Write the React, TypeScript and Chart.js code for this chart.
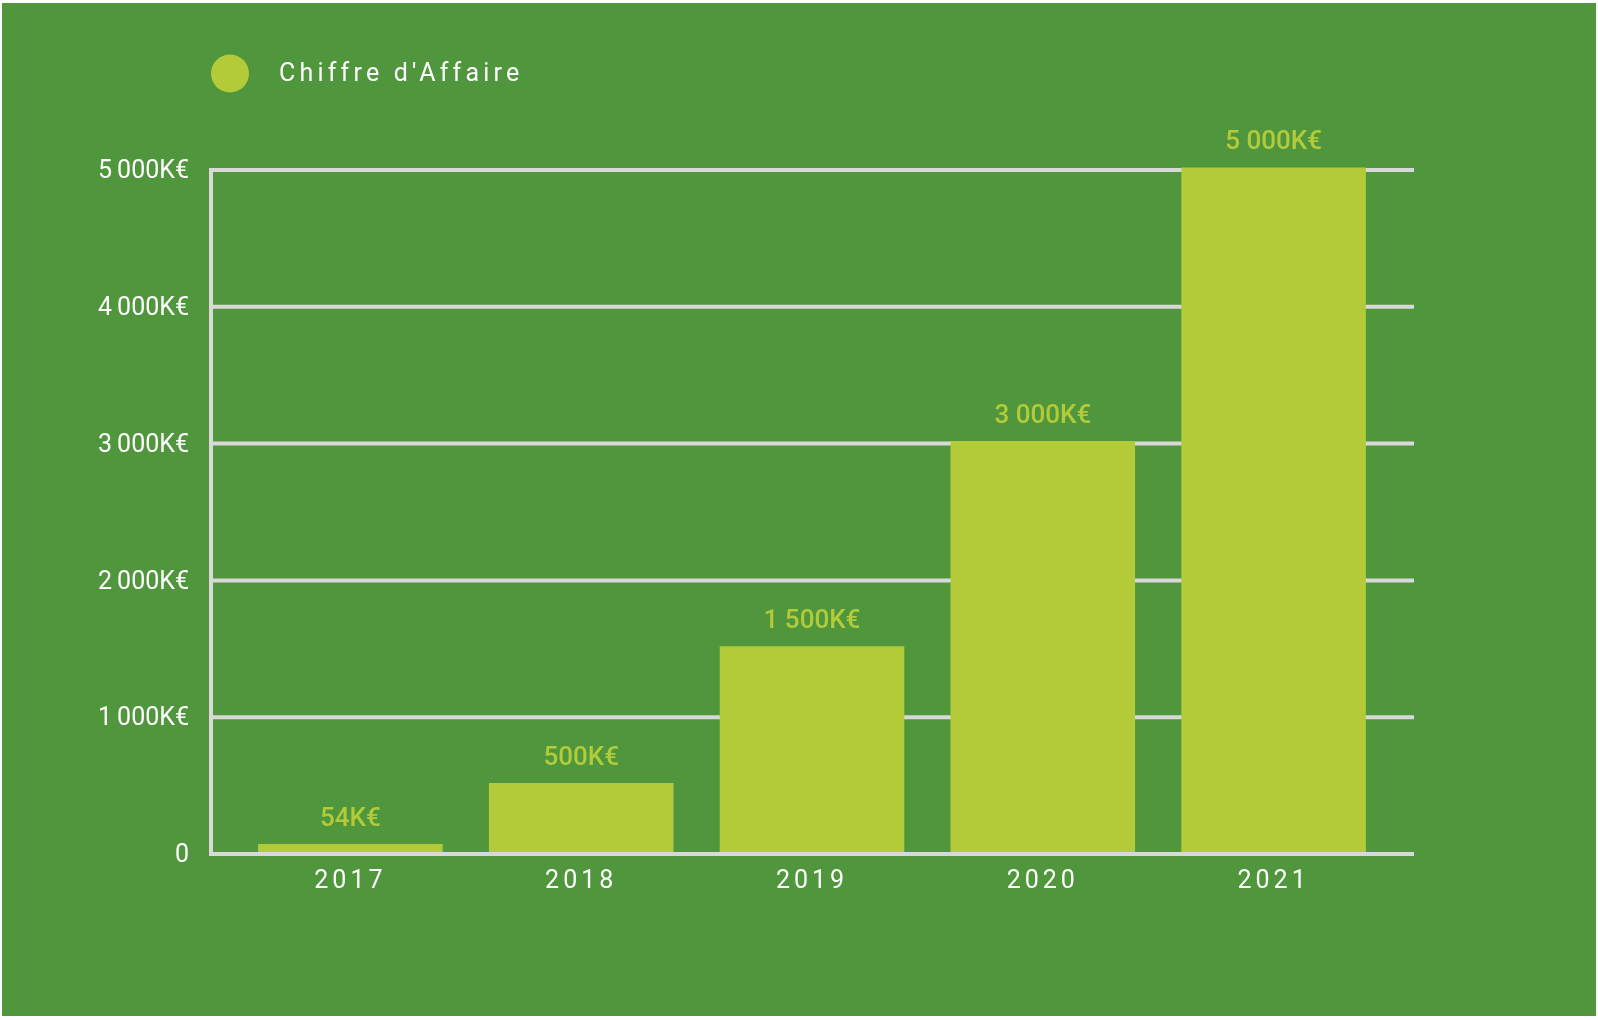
import React, { useEffect, useRef } from 'react';
import { Chart, registerables } from 'chart.js';

Chart.register(...registerables);

// ---- data ----
const years = ['2017', '2018', '2019', '2020', '2021'];
const revenue = [54, 500, 1500, 3000, 5000];
const valueLabels = ['54K€', '500K€', '1 500K€', '3 000K€', '5 000K€'];
const yTickValues = [0, 1000, 2000, 3000, 4000, 5000];
const yTickLabels = ['0', '1\u2009000K€', '2\u2009000K€', '3\u2009000K€', '4\u2009000K€', '5\u2009000K€'];
const seriesName = "Chiffre d'Affaire";

// ---- styles ----
const BG = '#4F963C';
const BAR = '#B3CB39';
const GRID = '#D9D9D9';
const FONT = 'Roboto';
const W = 1598;
const H = 1020;

const backgroundPlugin = {
  id: 'bgPanel',
  beforeDraw(chart: any) {
    const ctx = chart.ctx;
    ctx.save();
    ctx.fillStyle = '#ffffff';
    ctx.fillRect(0, 0, chart.width, chart.height);
    ctx.fillStyle = BG;
    ctx.fillRect(2, 3, chart.width - 4, chart.height - 7);
    ctx.restore();
  },
};

const GRID_LEFT_EXT = 24;
const GRID_RIGHT_EXT = 25;

const gridPlugin = {
  id: 'customGrid',
  beforeDatasetsDraw(chart: any) {
    const { ctx, chartArea, scales } = chart;
    const y = scales.y;
    const x0 = chartArea.left - GRID_LEFT_EXT;
    const x1 = chartArea.right + GRID_RIGHT_EXT;
    ctx.save();
    ctx.strokeStyle = GRID;
    ctx.lineWidth = 4;
    yTickValues.forEach((v) => {
      if (v === 0) return;
      const py = y.getPixelForValue(v);
      ctx.beginPath();
      ctx.moveTo(x0, py);
      ctx.lineTo(x1, py);
      ctx.stroke();
    });
    // vertical axis line
    ctx.beginPath();
    ctx.moveTo(x0, y.getPixelForValue(yTickValues[yTickValues.length - 1]) - 2);
    ctx.lineTo(x0, y.getPixelForValue(0) + 2);
    ctx.stroke();
    ctx.restore();
  },
  afterDatasetsDraw(chart: any) {
    const { ctx, chartArea, scales } = chart;
    const y = scales.y;
    const x0 = chartArea.left - GRID_LEFT_EXT - 2;
    const x1 = chartArea.right + GRID_RIGHT_EXT;
    ctx.save();
    ctx.strokeStyle = GRID;
    ctx.lineWidth = 4;
    const py = y.getPixelForValue(0);
    ctx.beginPath();
    ctx.moveTo(x0, py);
    ctx.lineTo(x1, py);
    ctx.stroke();
    ctx.restore();

    // value labels above bars
    const meta = chart.getDatasetMeta(0);
    ctx.save();
    ctx.fillStyle = BAR;
    ctx.font = `500 26px ${FONT}`;
    ctx.textAlign = 'center';
    ctx.textBaseline = 'alphabetic';
    meta.data.forEach((bar: any, i: number) => {
      ctx.fillText(valueLabels[i], bar.x, bar.y - 21);
    });
    ctx.restore();

    // letter spacing for the x tick labels drawn next (z > 0)
    ctx.letterSpacing = '4px';
  },
  afterDraw(chart: any) {
    const ctx = chart.ctx;
    const ds = chart.data.datasets[0];
    ctx.save();
    ctx.letterSpacing = '4.2px';
    ctx.fillStyle = ds.backgroundColor;
    ctx.beginPath();
    ctx.arc(230, 73.5, 19, 0, Math.PI * 2);
    ctx.fill();
    ctx.fillStyle = '#ffffff';
    ctx.font = `25px ${FONT}`;
    ctx.textAlign = 'left';
    ctx.textBaseline = 'alphabetic';
    ctx.fillText(ds.label, 279, 81);
    ctx.restore();
    ctx.letterSpacing = '0px';
  },
};

export default function App() {
  const ref = useRef<HTMLCanvasElement>(null);

  useEffect(() => {
    if (!ref.current) return;
    const chart = new Chart(ref.current, {
      type: 'bar',
      data: {
        labels: years,
        datasets: [
          {
            label: seriesName,
            data: revenue,
            backgroundColor: BAR,
            borderWidth: 0,
            inflateAmount: 2.5,
            barPercentage: 0.778,
            categoryPercentage: 1,
            clip: { left: 10, top: 10, right: 10, bottom: 0 },
          },
        ],
      },
      options: {
        responsive: false,
        animation: false,
        devicePixelRatio: 1,
        layout: { padding: { top: 170, right: 209, bottom: 106, left: 0 } },
        plugins: {
          legend: { display: false },
          tooltip: { enabled: false },
        },
        scales: {
          x: {
            grid: { display: false, drawTicks: false },
            border: { display: false },
            ticks: {
              z: 1,
              color: '#ffffff',
              font: { family: FONT, size: 25 },
              padding: 13,
              maxRotation: 0,
            },
            afterFit(scale: any) {
              scale.height = 60;
            },
          },
          y: {
            min: 0,
            max: 5000,
            grid: { display: false, drawTicks: false },
            border: { display: false },
            ticks: {
              stepSize: 1000,
              color: '#ffffff',
              font: { family: FONT, size: 25 },
              padding: 46,
              labelOffset: 2,
              callback: (value: any) => {
                const i = yTickValues.indexOf(Number(value));
                return i >= 0 ? yTickLabels[i] : '';
              },
            },
            afterFit(scale: any) {
              scale.width = 235;
            },
          },
        },
      },
      plugins: [backgroundPlugin, gridPlugin],
    });
    return () => chart.destroy();
  }, []);

  return (
    <div style={{ position: 'fixed', left: 0, top: 0, width: W, height: H }}>
      <canvas ref={ref} width={W} height={H} style={{ display: 'block' }} />
    </div>
  );
}
